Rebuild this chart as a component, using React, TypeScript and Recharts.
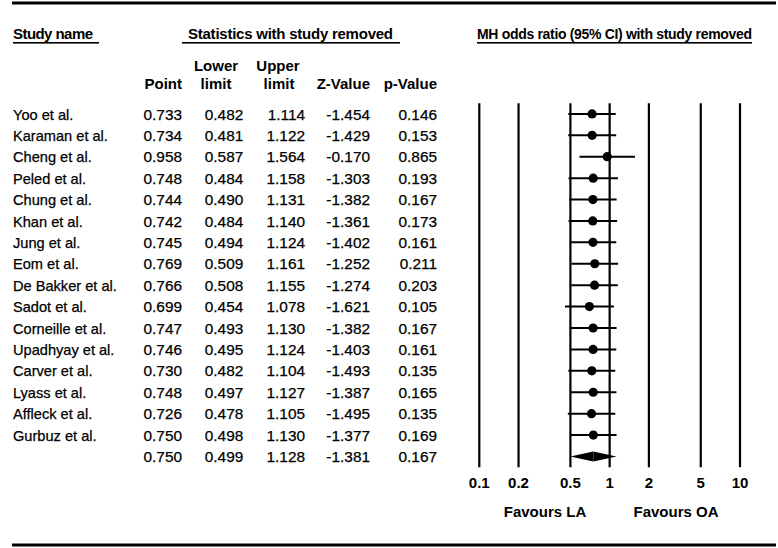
import React from 'react';
import { ScatterChart, Scatter, XAxis, YAxis, ReferenceLine, ReferenceArea } from 'recharts';

const studyNames = [
  'Yoo et al.', 'Karaman et al.', 'Cheng et al.', 'Peled et al.', 'Chung et al.', 'Khan et al.',
  'Jung et al.', 'Eom et al.', 'De Bakker et al.', 'Sadot et al.', 'Corneille et al.', 'Upadhyay et al.',
  'Carver et al.', 'Lyass et al.', 'Affleck et al.', 'Gurbuz et al.',
];
const pointEst = [0.733, 0.734, 0.958, 0.748, 0.744, 0.742, 0.745, 0.769, 0.766, 0.699, 0.747, 0.746, 0.730, 0.748, 0.726, 0.750];
const lowerLimits = [0.482, 0.481, 0.587, 0.484, 0.490, 0.484, 0.494, 0.509, 0.508, 0.454, 0.493, 0.495, 0.482, 0.497, 0.478, 0.498];
const upperLimits = [1.114, 1.122, 1.564, 1.158, 1.131, 1.140, 1.124, 1.161, 1.155, 1.078, 1.130, 1.124, 1.104, 1.127, 1.105, 1.130];
const zValues = [-1.454, -1.429, -0.170, -1.303, -1.382, -1.361, -1.402, -1.252, -1.274, -1.621, -1.382, -1.403, -1.493, -1.387, -1.495, -1.377];
const pValues = [0.146, 0.153, 0.865, 0.193, 0.167, 0.173, 0.161, 0.211, 0.203, 0.105, 0.167, 0.161, 0.135, 0.165, 0.135, 0.169];

const summaryPoint = 0.750;
const summaryLower = 0.499;
const summaryUpper = 1.128;
const summaryZ = -1.381;
const summaryP = 0.167;

const xTicks = [0.1, 0.2, 0.5, 1, 2, 5, 10];

const FONT = '"Liberation Sans", Arial, Helvetica, sans-serif';
const W = 778;
const H = 548;
const ROW0 = 113.9;
const ROW_H = 21.41;
const N_ROWS = studyNames.length + 1;
const PLOT_TOP = ROW0 - ROW_H / 2;
const PLOT_BOTTOM = PLOT_TOP + N_ROWS * ROW_H;
const X_AXIS_H = 40;

const scatterData = pointEst.map((p, i) => ({ x: p, y: i }));

const XTick = (props: any) => {
  const { x, y, payload } = props;
  return (
    <text x={x} y={y + 20.5} textAnchor="middle" fontSize={15} fontWeight="bold" fontFamily={FONT} fill="#000">
      {String(payload.value)}
    </text>
  );
};

const Dot = (props: any) => <circle cx={props.cx} cy={props.cy} r={4.6} fill="#000" />;

const LeftHalf = (props: any) => {
  const { x, y, width, height } = props;
  return <polygon points={`${x},${y + height / 2} ${x + width},${y} ${x + width},${y + height}`} fill="#000" />;
};
const RightHalf = (props: any) => {
  const { x, y, width, height } = props;
  return <polygon points={`${x},${y} ${x + width},${y + height / 2} ${x},${y + height}`} fill="#000" />;
};

const fmt = (v: number) => v.toFixed(3);

export default function App() {
  const rows = studyNames.map((n, i) => ({
    name: n,
    cols: [pointEst[i], lowerLimits[i], upperLimits[i], zValues[i], pValues[i]],
  }));
  rows.push({ name: '', cols: [summaryPoint, summaryLower, summaryUpper, summaryZ, summaryP] });
  const colRight = [182, 243.3, 305, 370, 437];

  return (
    <div style={{ position: 'absolute', left: 0, top: 0, width: W, height: H, background: '#fff' }}>
      <div style={{ position: 'absolute', left: 0, top: 0 }}>
        <ScatterChart
          width={W}
          height={H}
          margin={{ top: PLOT_TOP, right: W - 740, bottom: H - PLOT_BOTTOM - X_AXIS_H, left: 479.3 }}
        >
          <XAxis
            type="number"
            dataKey="x"
            scale="log"
            domain={[0.1, 10]}
            ticks={xTicks}
            interval={0}
            axisLine={false}
            tickLine={false}
            tickSize={0}
            tickMargin={0}
            height={X_AXIS_H}
            tick={<XTick />}
            allowDataOverflow
          />
          <YAxis type="number" dataKey="y" domain={[-0.5, N_ROWS - 0.5]} reversed hide width={0} allowDataOverflow />
          {xTicks.map((t) => (
            <ReferenceLine key={`v${t}`} x={t} stroke="#000" strokeWidth={2.2} ifOverflow="extendDomain" />
          ))}
          {pointEst.map((_, i) => (
            <ReferenceLine
              key={`ci${i}`}
              segment={[{ x: lowerLimits[i], y: i }, { x: upperLimits[i], y: i }]}
              stroke="#000"
              strokeWidth={2}
            />
          ))}
          <ReferenceArea
            x1={summaryLower}
            x2={summaryPoint}
            y1={N_ROWS - 1 - 0.23}
            y2={N_ROWS - 1 + 0.23}
            shape={LeftHalf}
          />
          <ReferenceArea
            x1={summaryPoint}
            x2={summaryUpper}
            y1={N_ROWS - 1 - 0.23}
            y2={N_ROWS - 1 + 0.23}
            shape={RightHalf}
          />
          <Scatter data={scatterData} fill="#000" shape={Dot} isAnimationActive={false} />
        </ScatterChart>
      </div>
      <svg
        width={W}
        height={H}
        style={{ position: 'absolute', left: 0, top: 0, pointerEvents: 'none' }}
        fontFamily={FONT}
      >
        <rect x={12} y={1.5} width={764} height={3} fill="#000" />
        <rect x={12} y={543.5} width={764} height={3} fill="#000" />

        <text x={13} y={39} fontSize={15} fontWeight="bold" textLength={80} lengthAdjust="spacing">Study name</text>
        <rect x={13} y={42} width={86} height={1.6} fill="#000" />
        <text x={188} y={39} fontSize={15} fontWeight="bold" textLength={205} lengthAdjust="spacing">Statistics with study removed</text>
        <rect x={182} y={42} width={218} height={1.6} fill="#000" />
        <text x={477} y={39} fontSize={14} fontWeight="bold" textLength={275} lengthAdjust="spacing">MH odds ratio (95% CI) with study removed</text>
        <rect x={477} y={42} width={275} height={1.6} fill="#000" />

        <g fontSize={15} fontWeight="bold">
          <text x={182} y={88.5} textAnchor="end">Point</text>
          <text x={216} y={70.5} textAnchor="middle">Lower</text>
          <text x={216} y={88.5} textAnchor="middle">limit</text>
          <text x={278} y={70.5} textAnchor="middle">Upper</text>
          <text x={279} y={88.5} textAnchor="middle">limit</text>
          <text x={370} y={88.5} textAnchor="end">Z-Value</text>
          <text x={437} y={88.5} textAnchor="end">p-Value</text>
        </g>

        <g stroke="#000" strokeWidth={0.25}>
          {rows.map((r, i) => {
            const y = ROW0 + i * ROW_H + 5.6;
            return (
              <g key={`row${i}`}>
                <text x={13} y={y} fontSize={14.6}>{r.name}</text>
                {r.cols.map((v, j) => (
                  <text key={j} x={colRight[j]} y={y} textAnchor="end" fontSize={15.4}>{fmt(v)}</text>
                ))}
              </g>
            );
          })}
        </g>

        <g fontSize={15} fontWeight="bold">
          <text x={545} y={516.5} textAnchor="middle">Favours LA</text>
          <text x={676} y={516.5} textAnchor="middle">Favours OA</text>
        </g>
      </svg>
    </div>
  );
}
